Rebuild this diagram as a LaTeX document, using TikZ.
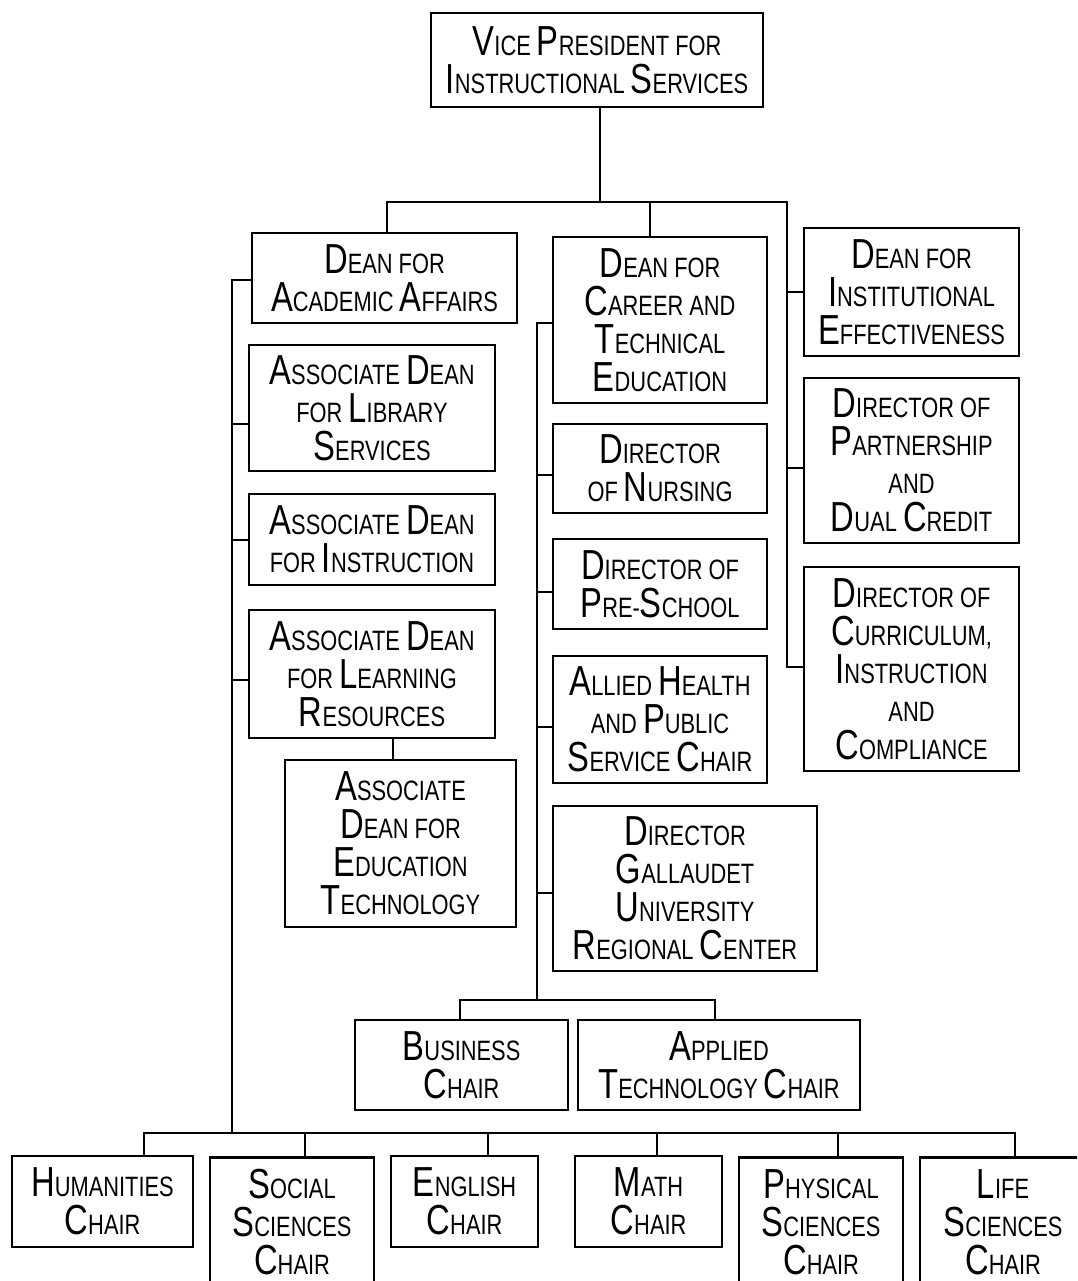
\documentclass[tikz,border=0pt]{standalone}
\usepackage{fontspec}
\setmainfont{Liberation Sans}[FakeStretch=0.78]
\newcommand\Bg[1]{{\fontsize{42}{38}\selectfont #1}}
\tikzset{
  box/.style={draw, line width=2.9pt, inner sep=0pt, align=center,
    font=\fontsize{28}{38}\selectfont},
  ln/.style={line width=2.9pt, line cap=rect}
}
\begin{document}
\begin{tikzpicture}[x=1pt,y=-1pt]
\clip (0,0) rectangle (1077,1281);
\fill[white] (0,0) rectangle (1077,1281);

% top
\node[box, minimum width=332pt, minimum height=94pt] (VP) at (597,60)
  {\Bg{V}ICE \Bg{P}RESIDENT FOR\\\Bg{I}NSTRUCTIONAL \Bg{S}ERVICES};

% deans
\node[box, minimum width=265pt, minimum height=90pt] (DA) at (384.5,278)
  {\Bg{D}EAN FOR\\\Bg{A}CADEMIC \Bg{A}FFAIRS};
\node[box, minimum width=214pt, minimum height=166pt] (DC) at (660,320)
  {\Bg{D}EAN FOR\\\Bg{C}AREER AND\\\Bg{T}ECHNICAL\\\Bg{E}DUCATION};
\node[box, minimum width=215pt, minimum height=128pt] (IE) at (911.5,292)
  {\Bg{D}EAN FOR\\\Bg{I}NSTITUTIONAL\\\Bg{E}FFECTIVENESS};
\node[box, minimum width=215pt, minimum height=165pt] (PA) at (911.5,460.5)
  {\Bg{D}IRECTOR OF\\\Bg{P}ARTNERSHIP\\AND\\\Bg{D}UAL \Bg{C}REDIT};
\node[box, minimum width=215pt, minimum height=204pt] (CU) at (911.5,669)
  {\Bg{D}IRECTOR OF\\\Bg{C}URRICULUM,\\\Bg{I}NSTRUCTION\\AND\\\Bg{C}OMPLIANCE};

% academic column
\node[box, minimum width=246pt, minimum height=126pt] (LI) at (372,408)
  {\Bg{A}SSOCIATE \Bg{D}EAN\\FOR \Bg{L}IBRARY\\\Bg{S}ERVICES};
\node[box, minimum width=246pt, minimum height=91pt] (IN) at (372,539.5)
  {\Bg{A}SSOCIATE \Bg{D}EAN\\FOR \Bg{I}NSTRUCTION};
\node[box, minimum width=246pt, minimum height=128pt] (LR) at (372,674)
  {\Bg{A}SSOCIATE \Bg{D}EAN\\FOR \Bg{L}EARNING\\\Bg{R}ESOURCES};
\node[box, minimum width=231pt, minimum height=167pt] (ET) at (400.5,843.5)
  {\Bg{A}SSOCIATE\\\Bg{D}EAN FOR\\\Bg{E}DUCATION\\\Bg{T}ECHNOLOGY};

% career column
\node[box, minimum width=214pt, minimum height=89pt] (NU) at (660,468.5)
  {\Bg{D}IRECTOR\\OF \Bg{N}URSING};
\node[box, minimum width=214pt, minimum height=90pt] (PS) at (660,584)
  {\Bg{D}IRECTOR OF\\\Bg{P}RE-\Bg{S}CHOOL};
\node[box, minimum width=214pt, minimum height=127pt] (AH) at (660,719.5)
  {\Bg{A}LLIED \Bg{H}EALTH\\AND \Bg{P}UBLIC\\\Bg{S}ERVICE \Bg{C}HAIR};
\node[box, minimum width=264pt, minimum height=165pt] (GA) at (685,888.5)
  {\Bg{D}IRECTOR\\\Bg{G}ALLAUDET\\\Bg{U}NIVERSITY\\\Bg{R}EGIONAL \Bg{C}ENTER};
\node[box, minimum width=213pt, minimum height=90pt] (BU) at (461.5,1065)
  {\Bg{B}USINESS\\\Bg{C}HAIR};
\node[box, minimum width=282pt, minimum height=90pt] (AP) at (719,1065)
  {\Bg{A}PPLIED\\\Bg{T}ECHNOLOGY \Bg{C}HAIR};

% chairs
\node[box, minimum width=181pt, minimum height=91pt] (HU) at (102.5,1201.5)
  {\Bg{H}UMANITIES\\\Bg{C}HAIR};
\node[box, minimum width=164pt, minimum height=129pt, anchor=north] (SS) at (292,1156)
  {\Bg{S}OCIAL\\\Bg{S}CIENCES\\\Bg{C}HAIR};
\node[box, minimum width=147pt, minimum height=91pt] (EN) at (464.5,1201.5)
  {\Bg{E}NGLISH\\\Bg{C}HAIR};
\node[box, minimum width=147pt, minimum height=91pt] (MA) at (648.5,1201.5)
  {\Bg{M}ATH\\\Bg{C}HAIR};
\node[box, minimum width=164pt, minimum height=129pt, anchor=north] (PH) at (821,1156)
  {\Bg{P}HYSICAL\\\Bg{S}CIENCES\\\Bg{C}HAIR};
\node[box, minimum width=166pt, minimum height=129pt, anchor=north] (LS) at (1003,1156)
  {\Bg{L}IFE\\\Bg{S}CIENCES\\\Bg{C}HAIR};

% junction coordinates
\coordinate (top) at (600,202);
\coordinate (jL) at (387,202);
\coordinate (jC) at (650,202);
\coordinate (jR) at (787,202);
\coordinate (sA) at (232,280);
\coordinate (sAb) at (232,1133);
\coordinate (sC) at (537,323);
\coordinate (sCb) at (537,1000);
\coordinate (b1) at (460,1000);
\coordinate (b2) at (715,1000);
\coordinate (c1) at (144,1133);
\coordinate (c2) at (305,1133);
\coordinate (c3) at (488,1133);
\coordinate (c4) at (657,1133);
\coordinate (c5) at (838,1133);
\coordinate (c6) at (1015,1133);
\coordinate (e1) at (393,738);

% connectors
\draw[ln] (VP.south -| top) -- (top);
\draw[ln] (jL |- DA.north) -- (jL) -- (jR) -- (jR |- 0,667);
\draw[ln] (jC) -- (jC |- DC.north);
\draw[ln] (jR |- IE.west) -- (IE.west);
\draw[ln] (jR |- 0,468) -- (PA.west |- 0,468);
\draw[ln] (jR |- 0,667) -- (CU.west |- 0,667);

\draw[ln] (sA) -- (sAb);
\draw[ln] (sA) -- (DA.west |- sA);
\draw[ln] (sA |- 0,424) -- (LI.west |- 0,424);
\draw[ln] (sA |- 0,540) -- (IN.west |- 0,540);
\draw[ln] (sA |- 0,680) -- (LR.west |- 0,680);
\draw[ln] (e1 |- LR.south) -- (e1 |- ET.north);

\draw[ln] (sC) -- (sCb);
\draw[ln] (sC) -- (DC.west |- sC);
\draw[ln] (sC |- 0,475) -- (NU.west |- 0,475);
\draw[ln] (sC |- 0,592) -- (PS.west |- 0,592);
\draw[ln] (sC |- 0,727) -- (AH.west |- 0,727);
\draw[ln] (sC |- 0,893) -- (GA.west |- 0,893);
\draw[ln] (b1 |- BU.north) -- (b1) -- (b2) -- (b2 |- AP.north);

\draw[ln] (c1) -- (c6);
\draw[ln] (c1) -- (c1 |- HU.north);
\draw[ln] (c2) -- (c2 |- SS.north);
\draw[ln] (c3) -- (c3 |- EN.north);
\draw[ln] (c4) -- (c4 |- MA.north);
\draw[ln] (c5) -- (c5 |- PH.north);
\draw[ln] (c6) -- (c6 |- LS.north);
\end{tikzpicture}
\end{document}
